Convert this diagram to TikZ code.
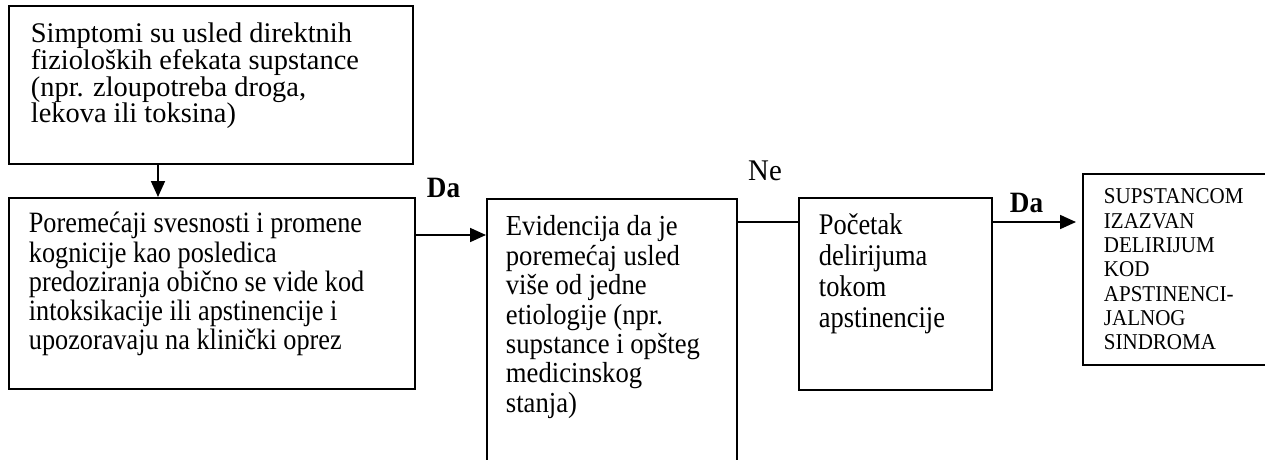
\documentclass[tikz,border=0pt]{standalone}
\usepackage{fontspec}
\setmainfont{Liberation Serif}
\newfontfamily\fontA[FakeStretch=1.0]{Liberation Serif}
\newfontfamily\fontB[FakeStretch=0.89]{Liberation Serif}
\newfontfamily\fontC[FakeStretch=0.92]{Liberation Serif}
\newfontfamily\fontD[FakeStretch=0.88]{Liberation Serif}
\newfontfamily\fontE[FakeStretch=0.93]{Liberation Serif}
\newfontfamily\fontL[FakeStretch=0.92]{Liberation Serif}
\newfontfamily\fontN[FakeStretch=0.96]{Liberation Serif}
\usetikzlibrary{arrows.meta}
\newcommand\btext[8]{\hbox{\hspace*{#1}\parbox[c][#2][t]{#3}{\raggedright#8\fontsize{#4}{#5}\selectfont\lineskiplimit=-100pt\rule{0pt}{#6}#7}}}
\tikzset{
  box/.style={draw, line width=1.8pt, inner sep=0pt, anchor=north west, rectangle},
  conn/.style={line width=1.8pt},
  arr/.style={conn, -{Triangle[length=16pt,width=14pt]}},
  lab/.style={inner sep=0pt, anchor=base},
}
\begin{document}
\begin{tikzpicture}[x=1pt,y=1pt]
\useasboundingbox (0,0) rectangle (1265,-460);
\clip (0,0) rectangle (1265,-460);
\node[box, minimum width=404pt, minimum height=158pt] (b1) at (8,-5)
  {\btext{22pt}{158pt}{382pt}{28.4pt}{26.6pt}{37pt}{Simptomi su usled direktnih\\fizioloških efekata supstance\\(npr. zloupotreba droga,\\lekova ili toksina)}{\fontA}};
\node[box, minimum width=406pt, minimum height=191pt] (b2) at (8,-197)
  {\btext{20pt}{191pt}{386pt}{29.5pt}{29.2pt}{35pt}{Poremećaji svesnosti i promene\\kognicije kao posledica\\predoziranja obično se vide kod\\intoksikacije ili apstinencije i\\upozoravaju na klinički oprez}{\fontB}};
\node[box, minimum width=250pt, minimum height=272pt] (b3) at (486,-198)
  {\btext{19pt}{272pt}{231pt}{29pt}{29.4pt}{37pt}{Evidencija da je\\poremećaj usled\\više od jedne\\etiologije (npr.\\supstance i opšteg\\medicinskog\\stanja)}{\fontC}};
\node[box, minimum width=193pt, minimum height=192pt] (b4) at (798,-197)
  {\btext{20pt}{192pt}{173pt}{30pt}{31pt}{37pt}{Početak\\delirijuma\\tokom\\apstinencije}{\fontD}};
\node[box, minimum width=188pt, minimum height=191pt] (b5) at (1082,-173)
  {\btext{21pt}{191pt}{167pt}{22.6pt}{24.3pt}{30pt}{SUPSTANCOM\\IZAZVAN\\DELIRIJUM\\KOD\\APSTINENCI-\\JALNOG\\SINDROMA}{\fontE}};
\draw[arr] ([xshift=150pt]b1.south west) -- ([xshift=150pt]b2.north west);
\draw[arr] ([yshift=-38pt]b2.north east) -- ([yshift=-37pt]b3.north west);
\draw[conn] ([yshift=-24pt]b3.north east) -- ([yshift=-25pt]b4.north west);
\draw[arr, shorten >=6pt] ([yshift=-25pt]b4.north east) -- ([yshift=-49pt]b5.north west);
\node[lab, font=\fontL\fontsize{29.5pt}{30pt}\selectfont\bfseries] (da1) at (443.5,-197) {Da};
\node[lab, font=\fontN\fontsize{30pt}{30pt}\selectfont] (ne) at (765,-180) {Ne};
\node[lab, font=\fontL\fontsize{29.5pt}{30pt}\selectfont\bfseries] (da2) at (1026.5,-212) {Da};
\end{tikzpicture}
\end{document}
